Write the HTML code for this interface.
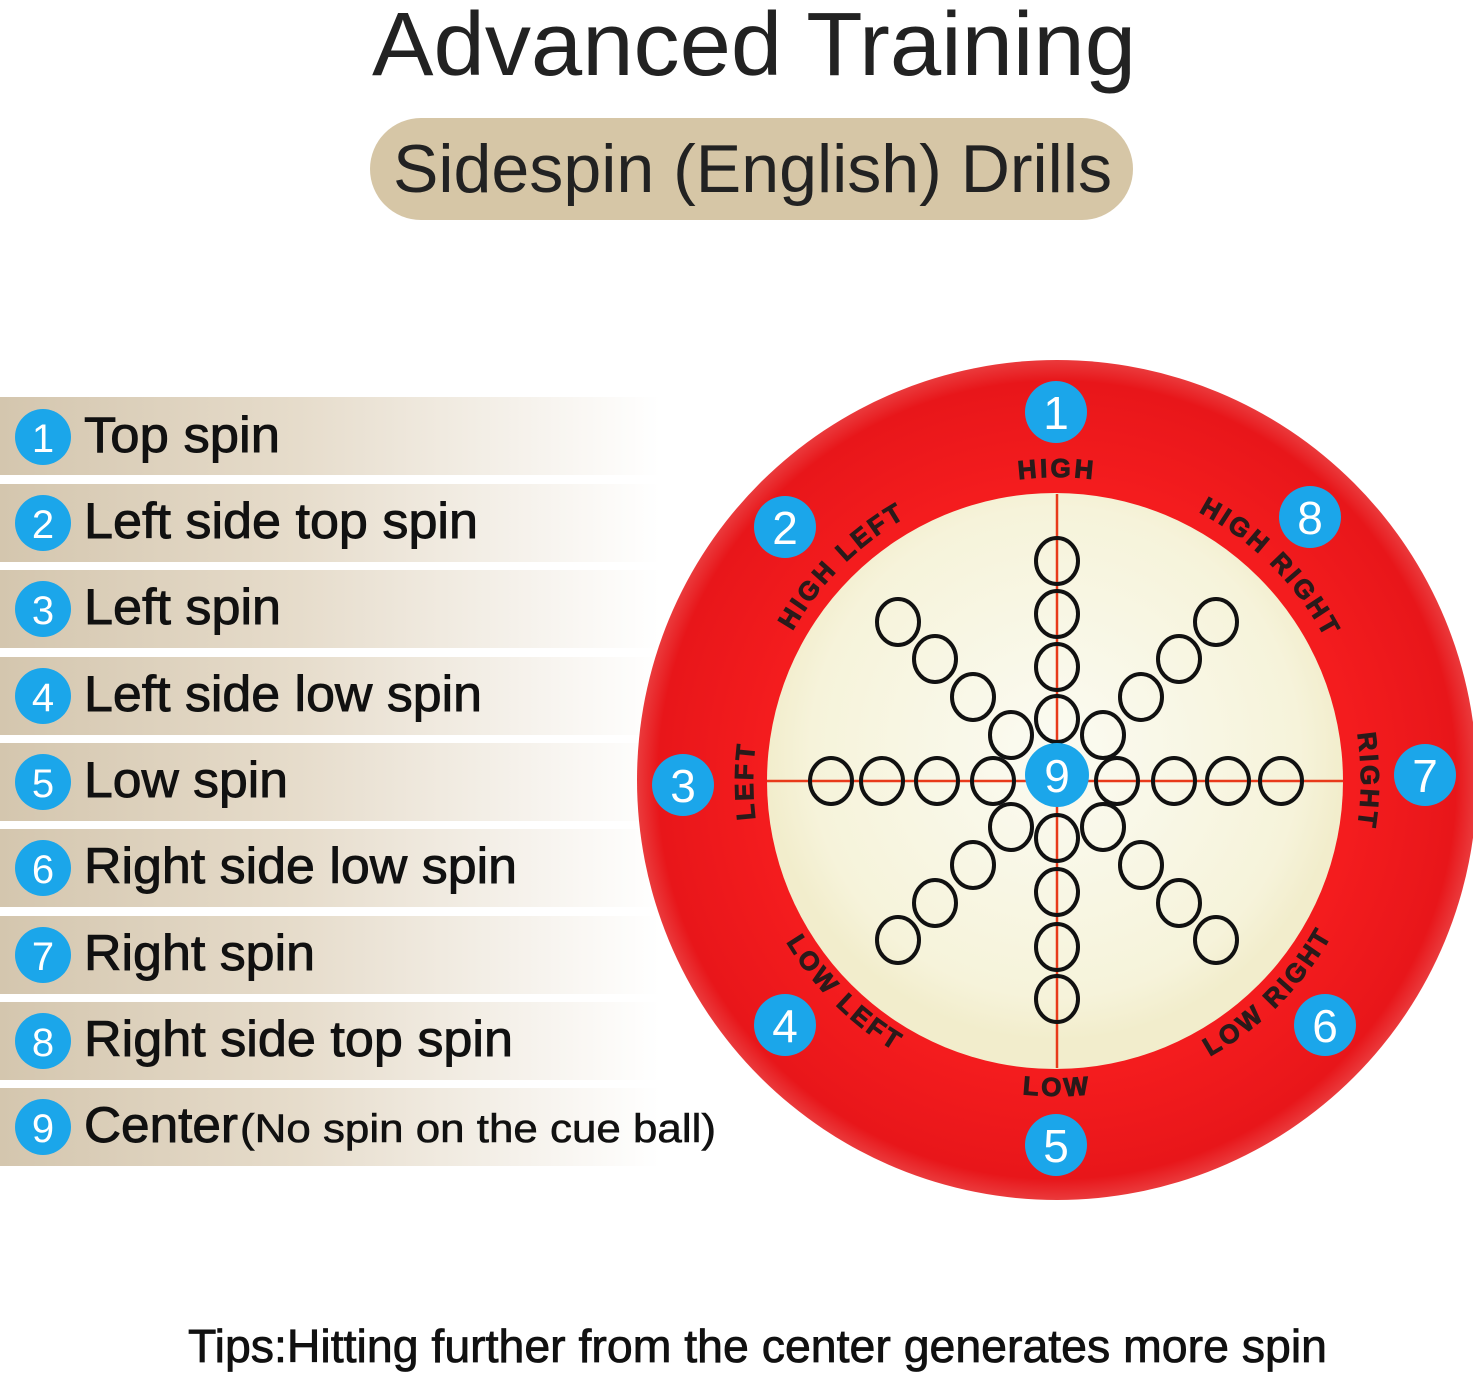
<!DOCTYPE html>
<html><head><meta charset="utf-8"><style>
html,body{margin:0;padding:0;background:#fff;}
svg{display:block;}
</style></head><body>
<svg width="1473" height="1375" viewBox="0 0 1473 1375" xmlns="http://www.w3.org/2000/svg" font-family="'Liberation Sans', sans-serif">
<defs>
<linearGradient id="band" x1="0" x2="1" y1="0" y2="0">
<stop offset="0" stop-color="#d4c6ae"/><stop offset="0.45" stop-color="#e6dccb"/><stop offset="1" stop-color="#ffffff"/>
</linearGradient>
<radialGradient id="red" cx="0.5" cy="0.5" r="0.5">
<stop offset="0.7" stop-color="#f41c1e"/><stop offset="0.95" stop-color="#e8161a"/><stop offset="1" stop-color="#ea3a3c"/>
</radialGradient>
<radialGradient id="cream" cx="0.5" cy="0.45" r="0.5">
<stop offset="0" stop-color="#fbfbf2"/><stop offset="0.85" stop-color="#f6f3da"/><stop offset="1" stop-color="#f2edcc"/>
</radialGradient>
<path id="cw" d="M1057,1085 A304,304 0 1 1 1057,477 A304,304 0 1 1 1057,1085"/>
<path id="ccw" d="M1057,466 A315,315 0 1 0 1057,1096 A315,315 0 1 0 1057,466"/>
</defs>

<text x="372" y="75" font-size="90" fill="#222" textLength="764" lengthAdjust="spacingAndGlyphs">Advanced Training</text>
<rect x="370" y="118" width="763" height="102" rx="51" fill="#d6c6a6"/>
<text x="393" y="192" font-size="68" fill="#222" textLength="719" lengthAdjust="spacingAndGlyphs">Sidespin (English) Drills</text>

<g>
<rect x="0" y="397" width="660" height="78" fill="url(#band)"/>
<rect x="0" y="484" width="660" height="78" fill="url(#band)"/>
<rect x="0" y="570" width="660" height="78" fill="url(#band)"/>
<rect x="0" y="657" width="660" height="78" fill="url(#band)"/>
<rect x="0" y="743" width="660" height="78" fill="url(#band)"/>
<rect x="0" y="829" width="660" height="78" fill="url(#band)"/>
<rect x="0" y="916" width="660" height="78" fill="url(#band)"/>
<rect x="0" y="1002" width="660" height="78" fill="url(#band)"/>
<rect x="0" y="1088" width="660" height="78" fill="url(#band)"/>
</g>
<g fill="#1ba6ea">
<circle cx="43" cy="437" r="28"/><circle cx="43" cy="523" r="28"/><circle cx="43" cy="609" r="28"/>
<circle cx="43" cy="696" r="28"/><circle cx="43" cy="782" r="28"/><circle cx="43" cy="868" r="28"/>
<circle cx="43" cy="955" r="28"/><circle cx="43" cy="1041" r="28"/><circle cx="43" cy="1127" r="28"/>
</g>
<g fill="#fff" font-size="40" text-anchor="middle">
<text x="43" y="452">1</text><text x="43" y="538">2</text><text x="43" y="624">3</text>
<text x="43" y="711">4</text><text x="43" y="797">5</text><text x="43" y="883">6</text>
<text x="43" y="970">7</text><text x="43" y="1056">8</text><text x="43" y="1142">9</text>
</g>
<g fill="#111" stroke="#111" stroke-width="0.9" font-size="50">
<text x="84" y="452" textLength="196" lengthAdjust="spacingAndGlyphs">Top spin</text>
<text x="84" y="538" textLength="394" lengthAdjust="spacingAndGlyphs">Left side top spin</text>
<text x="84" y="624" textLength="197" lengthAdjust="spacingAndGlyphs">Left spin</text>
<text x="84" y="711" textLength="398" lengthAdjust="spacingAndGlyphs">Left side low spin</text>
<text x="84" y="797" textLength="204" lengthAdjust="spacingAndGlyphs">Low spin</text>
<text x="84" y="883" textLength="433" lengthAdjust="spacingAndGlyphs">Right side low spin</text>
<text x="84" y="970" textLength="231" lengthAdjust="spacingAndGlyphs">Right spin</text>
<text x="84" y="1056" textLength="429" lengthAdjust="spacingAndGlyphs">Right side top spin</text>
<text x="84" y="1142" textLength="154" lengthAdjust="spacingAndGlyphs">Center</text>
<text x="240" y="1142" font-size="40" stroke-width="0.6" textLength="476" lengthAdjust="spacingAndGlyphs">(No spin on the cue ball)</text>
</g>

<circle cx="1057" cy="780" r="420" fill="url(#red)"/>
<circle cx="1055" cy="781" r="288" fill="url(#cream)"/>
<line x1="767" y1="781" x2="1343" y2="781" stroke="#e83a1a" stroke-width="2.5"/>
<line x1="1057" y1="494" x2="1057" y2="1068" stroke="#e83a1a" stroke-width="2.5"/>

<g fill="none" stroke="#111" stroke-width="4">
<ellipse cx="1057" cy="561" rx="21" ry="23"/><ellipse cx="1057" cy="614" rx="21" ry="23"/><ellipse cx="1057" cy="667" rx="21" ry="23"/><ellipse cx="1057" cy="719" rx="21" ry="23"/>
<ellipse cx="1057" cy="838" rx="21" ry="23"/><ellipse cx="1057" cy="892" rx="21" ry="23"/><ellipse cx="1057" cy="947" rx="21" ry="23"/><ellipse cx="1057" cy="999" rx="21" ry="23"/>
<ellipse cx="831" cy="781" rx="21" ry="23"/><ellipse cx="882" cy="781" rx="21" ry="23"/><ellipse cx="937" cy="781" rx="21" ry="23"/><ellipse cx="993" cy="781" rx="21" ry="23"/>
<ellipse cx="1117" cy="781" rx="21" ry="23"/><ellipse cx="1174" cy="781" rx="21" ry="23"/><ellipse cx="1228" cy="781" rx="21" ry="23"/><ellipse cx="1281" cy="781" rx="21" ry="23"/>
<ellipse cx="1011" cy="735" rx="21" ry="23"/><ellipse cx="973" cy="697" rx="21" ry="23"/><ellipse cx="935" cy="659" rx="21" ry="23"/><ellipse cx="898" cy="622" rx="21" ry="23"/>
<ellipse cx="1103" cy="735" rx="21" ry="23"/><ellipse cx="1141" cy="697" rx="21" ry="23"/><ellipse cx="1179" cy="659" rx="21" ry="23"/><ellipse cx="1216" cy="622" rx="21" ry="23"/>
<ellipse cx="1011" cy="827" rx="21" ry="23"/><ellipse cx="973" cy="865" rx="21" ry="23"/><ellipse cx="935" cy="903" rx="21" ry="23"/><ellipse cx="898" cy="940" rx="21" ry="23"/>
<ellipse cx="1103" cy="827" rx="21" ry="23"/><ellipse cx="1141" cy="865" rx="21" ry="23"/><ellipse cx="1179" cy="903" rx="21" ry="23"/><ellipse cx="1216" cy="940" rx="21" ry="23"/>
</g>

<g font-size="26" font-weight="bold" fill="#2a1a1a" stroke="#2a1a1a" stroke-width="1" text-anchor="middle" letter-spacing="3">
<text><textPath href="#cw" startOffset="25%">LEFT</textPath></text>
<text><textPath href="#cw" startOffset="37.5%">HIGH LEFT</textPath></text>
<text><textPath href="#cw" startOffset="50%">HIGH</textPath></text>
<text><textPath href="#cw" startOffset="62.5%">HIGH RIGHT</textPath></text>
<text><textPath href="#cw" startOffset="75%">RIGHT</textPath></text>
<text><textPath href="#ccw" startOffset="37.5%">LOW LEFT</textPath></text>
<text><textPath href="#ccw" startOffset="50%">LOW</textPath></text>
<text><textPath href="#ccw" startOffset="62.5%">LOW RIGHT</textPath></text>
</g>

<g fill="#1ba6ea">
<circle cx="1056" cy="412" r="31"/><circle cx="785" cy="527" r="31"/><circle cx="683" cy="785" r="31"/>
<circle cx="785" cy="1025" r="31"/><circle cx="1056" cy="1145" r="31"/><circle cx="1325" cy="1025" r="31"/>
<circle cx="1425" cy="775" r="31"/><circle cx="1310" cy="517" r="31"/><circle cx="1057" cy="775" r="32"/>
</g>
<g fill="#fff" font-size="46" text-anchor="middle">
<text x="1056" y="429">1</text><text x="785" y="544">2</text><text x="683" y="802">3</text>
<text x="785" y="1042">4</text><text x="1056" y="1162">5</text><text x="1325" y="1042">6</text>
<text x="1425" y="792">7</text><text x="1310" y="534">8</text><text x="1057" y="792">9</text>
</g>

<text x="188" y="1362" font-size="46" fill="#111" stroke="#111" stroke-width="0.8" textLength="1139" lengthAdjust="spacingAndGlyphs">Tips:Hitting further from the center generates more spin</text>
</svg>
</body></html>
